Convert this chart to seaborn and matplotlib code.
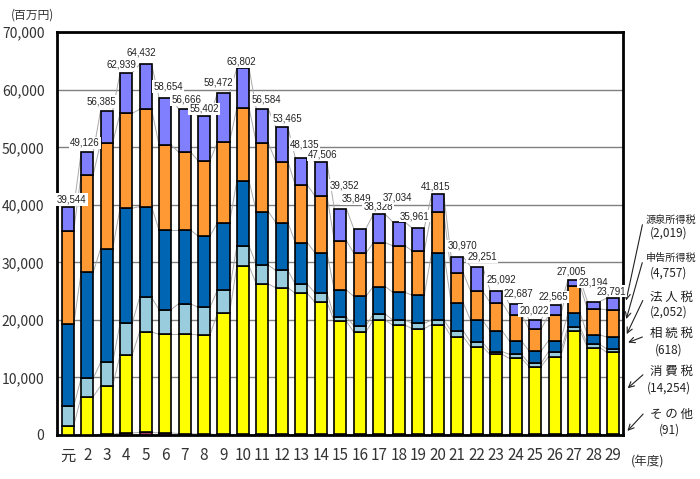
import numpy as np
import pandas as pd
import matplotlib
matplotlib.use("Agg")
import matplotlib.pyplot as plt
import seaborn as sns

years = ["元"] + [str(i) for i in range(2, 30)]

sonota   = [20, 50, 100, 350, 450, 350, 250, 150, 100, 100, 100, 100, 100, 100, 100,
            100, 100, 100, 100, 100, 100, 100, 100, 100, 100, 100, 100, 100, 91]
shohi    = [1600, 6600, 8450, 13550, 17450, 17150, 17250, 17250, 21100, 29300, 26100, 25500,
            24500, 23000, 19650, 17800, 19900, 19000, 18400, 19100, 17000, 15200, 13900,
            13200, 11800, 13500, 18000, 15100, 14254]
sozoku   = [3400, 3200, 4050, 5500, 6000, 4300, 5300, 4800, 4000, 3500, 3300, 3000, 1600,
            1600, 750, 1100, 1000, 900, 900, 800, 1000, 800, 500, 700, 550, 900, 700, 550, 618]
hojin    = [14200, 18450, 19800, 20000, 15800, 13800, 12800, 12400, 11700, 11300, 9300, 8300,
            7200, 7000, 4700, 5100, 4800, 4800, 4900, 11700, 4900, 3800, 3600, 2300, 2150,
            1900, 2400, 1650, 2052]
shinkoku = [16300, 16950, 18400, 16500, 16900, 14800, 13600, 13100, 14000, 12700, 11900,
            10600, 10000, 9900, 8600, 7500, 7600, 8100, 7700, 7000, 5200, 5100, 4900, 4600,
            3800, 4400, 4700, 4500, 4757]
gensen   = [4024, 3876, 5585, 7039, 7832, 8254, 7466, 7702, 8572, 6902, 5884, 5965, 4735,
            5906, 5552, 4249, 4928, 4134, 3961, 3115, 2770, 4251, 2092, 1787, 1622, 1765,
            1105, 1294, 2019]
totals   = [39544, 49126, 56385, 62939, 64432, 58654, 56666, 55402, 59472, 63802, 56584,
            53465, 48135, 47506, 39352, 35849, 38328, 37034, 35961, 41815, 30970, 29251,
            25092, 22687, 20022, 22565, 27005, 23194, 23791]

series_names = ["その他", "消費税", "相続税", "法人税", "申告所得税", "源泉所得税"]
series_vals = [sonota, shohi, sozoku, hojin, shinkoku, gensen]
colors = ["#993366", "#FFFF00", "#99CCDD", "#0066B3", "#FF9933", "#8080FF"]

# label placement offsets (pixels): horizontal shift, height above bar top
label_dx = [4, -2.5, -5.5, -5, -4.5, 3.3, 2, 0, -5.4, -2, 3.7, 5.2, 3.1, 1.8, 4.2,
            -3.8, -1.3, -1.5, -3.3, -1.7, 5, 5.3, 5, 3, -0.7, -1.2, -2.3, -0.3, -1.8]
label_dy = [8, 9.4, 9, 8.3, 11.4, 11, 9, 7.4, 10, 6.6, 9.7, 9, 13.7, 7, 23.3,
            30.3, 7.7, 24, 12, 7.7, 11, 10, 11.3, 11, 9.3, 8.3, 8, 19.4, 7]

df = pd.DataFrame({"year": years})
for n, v in zip(series_names, series_vals):
    df[n] = v

sns.set_style("white")
plt.rcParams["font.family"] = ["Noto Sans CJK JP", "DejaVu Sans"]

fig = plt.figure(figsize=(7.0, 4.79), dpi=100)
ax = fig.add_axes([0.0814, 0.0919, 0.8082, 0.8407])

W = 0.62
bottom = np.zeros(len(years))
tops = []
for n, c in zip(series_names, colors):
    vals = df[n].to_numpy(dtype=float)
    sns.barplot(data=df, x="year", y=n, bottom=bottom, color=c, width=W,
                edgecolor="black", linewidth=1.2, errorbar=None, ax=ax,
                saturation=1, zorder=3)
    bottom = bottom + vals
    tops.append(bottom.copy())

# series lines
for t in tops:
    for i in range(len(years) - 1):
        ax.plot([i + W / 2, i + 1 - W / 2], [t[i], t[i + 1]], color="#AAAAAA",
                lw=0.7, zorder=2)

# total labels
for i, tot in enumerate(totals):
    ax.annotate(f"{tot:,}", xy=(i, tot), xytext=(label_dx[i], label_dy[i]),
                textcoords="offset pixels", ha="center", va="center", fontsize=7,
                family=["Liberation Sans Narrow", "Liberation Sans", "DejaVu Sans"],
                color="#222222",
                bbox=dict(boxstyle="square,pad=0.12", fc="white", ec="none"), zorder=5)

ax.set_ylim(0, 70000)
ax.set_xlim(-0.55, len(years) - 0.5)
ax.set_yticks(np.arange(0, 70001, 10000))
ax.set_yticklabels([f"{v:,}" for v in range(0, 70001, 10000)], fontsize=10, color="#333333")
ax.tick_params(axis="x", length=0, pad=9, labelsize=11, colors="#333333")
ax.tick_params(axis="y", length=0, pad=9)
ax.set_xlabel("")
ax.set_ylabel("")
ax.yaxis.grid(True, color="#808080", lw=1.0)
ax.set_axisbelow(True)
for s in ax.spines.values():
    s.set_visible(True)
    s.set_color("black")
    s.set_linewidth(2)

fig.text(32 / 700, 1 - 15 / 479, "(百万円)", ha="center", va="center", fontsize=8.5, color="#333333")
fig.text(648 / 700, 1 - 462 / 479, "(年度)", ha="center", va="center", fontsize=9, color="#333333")

# right side annotations
ann = [
    ("源泉所得税", 7.3, "(2,019)", 220, 233, (643, 222), 22900),
    ("申告所得税", 7.3, "(4,757)", 258, 273, (643, 260), 19700),
    ("法 人 税", 9, "(2,052)", 297, 312, (644, 298), 17100),
    ("相 続 税", 9, "(618)", 333, 350, (645, 336), 15900),
    ("消 費 税", 9, "(14,254)", 371, 388, (645, 373), 7800),
    ("そ の 他", 9, "(91)", 414, 430, (645, 412), 350),
]
for name, fs, val, y1, y2, start, ty in ann:
    fig.text(671 / 700, 1 - y1 / 479, name, ha="center", va="center", fontsize=fs, color="#222222")
    fig.text(669 / 700, 1 - y2 / 479, val, ha="center", va="center", fontsize=8.5, color="#222222")
    ax.annotate("", xy=(1.005, ty), xycoords=("axes fraction", "data"),
                xytext=(start[0] / 700, 1 - start[1] / 479), textcoords="figure fraction",
                arrowprops=dict(arrowstyle="->", color="#222222", lw=0.8),
                annotation_clip=False)

fig.savefig("out.png", dpi=100)
